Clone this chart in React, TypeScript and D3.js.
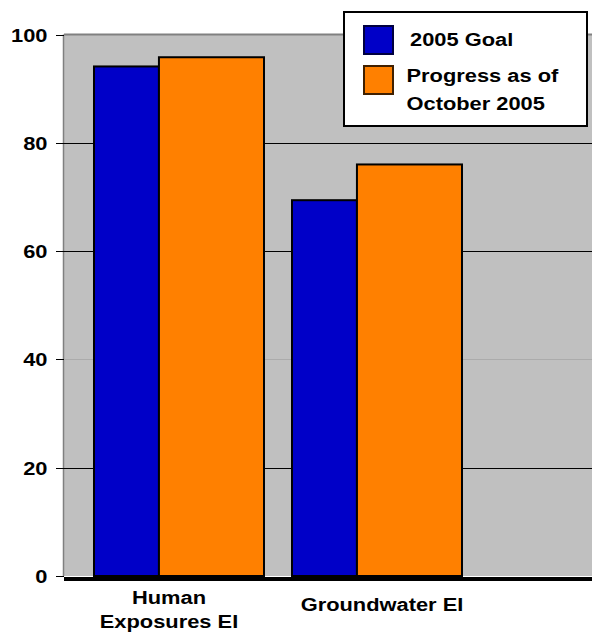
import React from "react";
import * as d3 from "d3";

const categories = ["Human Exposures EI", "Groundwater EI"];
const categoryLines = [["Human", "Exposures EI"], ["Groundwater EI"]];
const seriesNames = ["2005 Goal", "Progress as of October 2005"];
const legendLines = [["2005 Goal"], ["Progress as of", "October 2005"]];
const goalValues = [94.1, 69.4];
const progressValues = [95.8, 76.0];
const yTicks = [0, 20, 40, 60, 80, 100];

const W = 592;
const H = 632;
const FONT = "'Liberation Sans', Arial, Helvetica, sans-serif";
const SX = 1.15;
const BLUE = "#0000C8";
const ORANGE = "#FF8000";
const GREY = "#C0C0C0";

export default function App() {
  const plotLeft = 64;
  const plotRight = 600;
  const y = d3.scaleLinear().domain([0, 100]).range([576, 34.5]);
  const x = d3
    .scaleBand<string>()
    .domain(categories)
    .range([80, 476])
    .paddingInner(0.1414)
    .paddingOuter(0.0707);
  const bw = x.bandwidth();
  const blueW = bw * 0.382;
  const series = [goalValues, progressValues];
  const colors = [BLUE, ORANGE];

  const sText = (
    key: string,
    tx: number,
    ty: number,
    str: string,
    anchor: "start" | "middle" | "end",
    size = 19
  ) => (
    <text
      key={key}
      transform={`translate(${tx},${ty}) scale(${SX},1)`}
      textAnchor={anchor}
      fontFamily={FONT}
      fontWeight="bold"
      fontSize={size}
      fill="#000"
    >
      {str}
    </text>
  );

  return (
    <svg
      width={W}
      height={H}
      style={{ position: "absolute", left: 0, top: 0, background: "#fff" }}
    >
      {/* plot background */}
      <rect x={plotLeft} y={y(100)} width={plotRight - plotLeft} height={y(0) - y(100)} fill={GREY} />
      <line x1={plotLeft} x2={plotRight} y1={y(100)} y2={y(100)} stroke="#808080" strokeWidth={2} />
      <line x1={plotLeft - 0.5} x2={plotLeft - 0.5} y1={y(100)} y2={y(0)} stroke="#808080" strokeWidth={1.5} />
      {/* gridlines */}
      {yTicks
        .filter((t) => t > 0 && t < 100)
        .map((t) => (
          <line
            key={"g" + t}
            x1={plotLeft}
            x2={plotRight}
            y1={Math.round(y(t)) + 0.5}
            y2={Math.round(y(t)) + 0.5}
            stroke={t === 40 ? "#ababab" : "#000"}
            strokeWidth={1}
          />
        ))}
      {/* ticks and labels */}
      {yTicks.map((t) => (
        <g key={"t" + t}>
          <line x1={56} x2={plotLeft} y1={Math.round(y(t)) + 0.5} y2={Math.round(y(t)) + 0.5} stroke="#000" strokeWidth={1} />
          {sText("tl" + t, 47.5, y(t) + 7, String(t), "end")}
        </g>
      ))}
      {/* bars */}
      {categories.map((c, i) => {
        const x0 = x(c) as number;
        return (
          <g key={c}>
            {series.map((vals, s) => {
              const bx = s === 0 ? x0 : x0 + blueW;
              const bwid = s === 0 ? blueW : bw - blueW;
              return (
                <rect
                  key={s}
                  x={bx}
                  y={y(vals[i])}
                  width={bwid}
                  height={y(0) - y(vals[i])}
                  fill={colors[s]}
                  stroke="#000"
                  strokeWidth={2}
                />
              );
            })}
          </g>
        );
      })}
      {/* bottom axis */}
      <rect x={plotLeft} y={577} width={plotRight - plotLeft} height={4} fill="#000" />
      {/* category labels */}
      {categories.map((c, i) => {
        const cx = (x(c) as number) + bw / 2 + (i === 0 ? -10 : 5);
        const lines = categoryLines[i];
        const baselines = lines.length === 2 ? [604, 628] : [611];
        return lines.map((ln, k) => sText(c + k, cx, baselines[k], ln, "middle"));
      })}
      {/* legend */}
      <rect x={344} y={12} width={243} height={114} fill="#fff" stroke="#000" strokeWidth={2} />
      {seriesNames.map((name, s) => {
        const sy = s === 0 ? 26 : 66;
        const lines = legendLines[s];
        return (
          <g key={name}>
            <rect
              x={364}
              y={sy}
              width={29}
              height={28}
              fill={colors[s]}
              stroke={s === 0 ? "#000040" : "#402000"}
              strokeWidth={2}
            />
            {lines.map((ln, k) =>
              sText(name + k, s === 0 ? 410 : 406.5, (s === 0 ? 46 : 82) + k * 28, ln, "start")
            )}
          </g>
        );
      })}
    </svg>
  );
}
